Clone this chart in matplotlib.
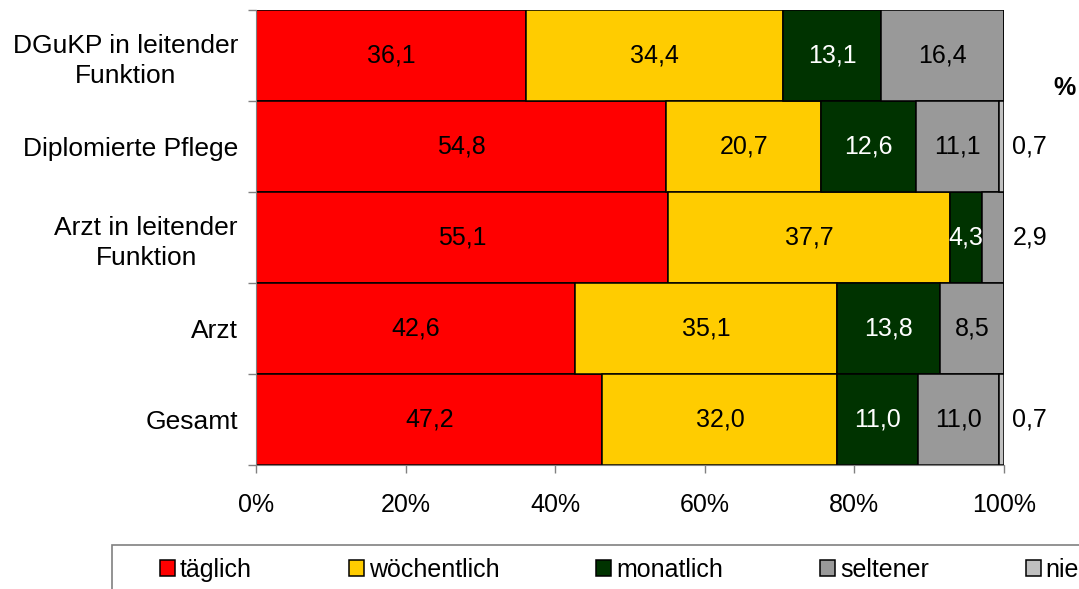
import matplotlib
matplotlib.use('Agg')
import matplotlib.pyplot as plt
from matplotlib.patches import Rectangle
import numpy as np

plt.rcParams['font.family'] = ['Liberation Sans', 'DejaVu Sans']

categories = ['DGuKP in leitender\nFunktion', 'Diplomierte Pflege',
              'Arzt in leitender\nFunktion', 'Arzt', 'Gesamt']
series_names = ['täglich', 'wöchentlich', 'monatlich', 'seltener', 'nie']
taeglich = [36.1, 54.8, 55.1, 42.6, 47.2]
woechentlich = [34.4, 20.7, 37.7, 35.1, 32.0]
monatlich = [13.1, 12.6, 4.3, 13.8, 11.0]
seltener = [16.4, 11.1, 2.9, 8.5, 11.0]
nie = [0.0, 0.7, 0.0, 0.0, 0.7]
x_ticks = [0, 20, 40, 60, 80, 100]

colors = ['#FF0000', '#FFCC00', '#003300', '#999999', '#C0C0C0']
text_colors = ['black', 'black', 'white', 'black', 'black']
fs = 18

raw = np.array([taeglich, woechentlich, monatlich, seltener, nie])
share = raw / raw.sum(axis=0) * 100  # 100% stacked

fig = plt.figure(figsize=(10.79, 5.89), dpi=100)
ax = fig.add_axes([256 / 1079, 1 - 465 / 589, 748 / 1079, 455 / 589])

y = np.arange(len(categories))
left = np.zeros(len(categories))
for i, name in enumerate(series_names):
    ax.barh(y, share[i], left=left, height=1.0, color=colors[i],
            edgecolor='black', linewidth=1.1, label=name)
    for j in range(len(categories)):
        v = raw[i, j]
        if v == 0:
            continue
        label = f'{v:.1f}'.replace('.', ',')
        if v < 3:
            ax.annotate(label, (100, y[j]), xytext=(6, 0), textcoords='offset points',
                        ha='left', va='center', fontsize=fs, color='black')
        else:
            ax.text(left[j] + share[i, j] / 2, y[j], label, ha='center', va='center',
                    fontsize=fs, color=text_colors[i])
    left += share[i]

ax.set_xlim(0, 100)
ax.set_ylim(len(categories) - 0.5, -0.5)
ax.set_xticks(x_ticks)
ax.set_xticklabels([f'{t}%' for t in x_ticks], fontsize=fs)
ax.set_yticks(np.arange(-0.5, len(categories)))
ax.set_yticklabels([])
ax.set_yticks(y, minor=True)
ax.set_yticklabels(categories, minor=True, fontsize=19)
for lbl in ax.get_yticklabels(minor=True):
    lbl.set_multialignment('center')
    lbl.set_linespacing(1.3)
ax.tick_params(axis='y', which='minor', length=0, pad=13)
ax.tick_params(axis='y', which='major', length=6, color='#808080', width=1)
ax.tick_params(axis='x', length=6, color='#808080', width=1, pad=14)
for side in ['top', 'right']:
    ax.spines[side].set_visible(False)
for side in ['left', 'bottom']:
    ax.spines[side].set_color('#808080')

fig.text(1065 / 1079, 1 - 88 / 589, '%', ha='center', va='center',
         fontsize=fs, fontweight='bold')

# legend box
fig.patches.append(Rectangle((112 / 1079, -0.1), 1.0, (589 - 545) / 589 + 0.1,
                             transform=fig.transFigure, facecolor='white',
                             edgecolor='#808080', linewidth=1.2))
fig.legend(loc='center left', bbox_to_anchor=(160 / 1079, 1 - 570 / 589, 919 / 1079, 0.0),
           mode='expand', ncol=5, frameon=False, fontsize=fs, borderpad=0,
           handlelength=0.6, handleheight=0.6, handletextpad=0.2, borderaxespad=0)

fig.savefig('out.png', dpi=100)
